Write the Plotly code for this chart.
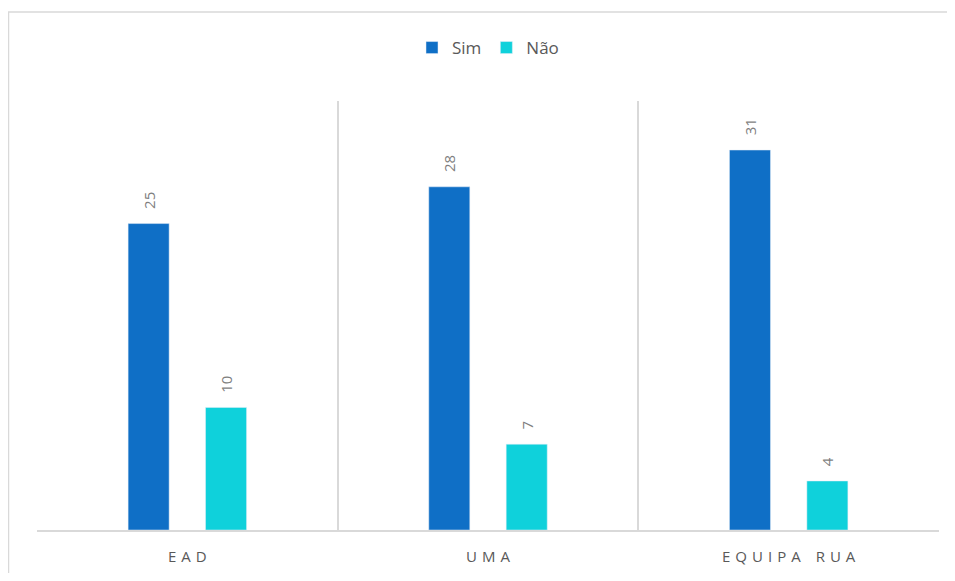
import plotly.graph_objects as go

categories = ["EAD", "UMA", "EQUIPA RUA"]
tick_labels = ["E\u2004A\u2004D", "U\u2004M\u2004A", "E\u2004Q\u2004U\u2004I\u2004P\u2004A\u2002\u2002R\u2004U\u2004A"]
sim_values = [25, 28, 31]
nao_values = [10, 7, 4]

SIM_COLOR = "#0F6FC6"
NAO_COLOR = "#0FD1DB"
GRID = "#D9D9D9"
pad = "\u00a0\u00a0\u00a0"

# page body has an 8px default margin: compensate so plot area lands where the reference has it
W, H = 939, 565
L, R, T, B = 29, 8, 93, 43
pw, ph = W - L - R, H - T - B

fig = go.Figure()
fig.add_trace(go.Bar(
    name="Sim", x=categories, y=sim_values, marker_color=SIM_COLOR,
    text=[pad + str(v) for v in sim_values], textposition="outside",
    textangle=-90, textfont=dict(color="#7F7F7F", size=15, family="Open Sans"),
    cliponaxis=False,
))
fig.add_trace(go.Bar(
    name="Não", x=categories, y=nao_values, marker_color=NAO_COLOR,
    text=[pad + str(v) for v in nao_values], textposition="outside",
    textangle=-90, textfont=dict(color="#7F7F7F", size=15, family="Open Sans"),
    cliponaxis=False,
))
# invisible trace on overlay axis to show category boundary gridlines
fig.add_trace(go.Scatter(x=[-0.5, 2.5], y=[0, 0], xaxis="x2", mode="markers",
                         marker=dict(opacity=0), showlegend=False, hoverinfo="skip"))

fig.update_layout(
    width=W, height=H,
    margin=dict(l=L, r=R, t=T, b=B),
    paper_bgcolor="white", plot_bgcolor="white",
    barmode="group", bargap=0.485, bargroupgap=0.47,
    font=dict(family="Open Sans", color="#595959"),
    legend=dict(orientation="h", x=0.5, xanchor="center", y=1 + (T - 40) / ph, yanchor="middle",
                font=dict(size=17, color="#595959"), itemwidth=30, traceorder="normal"),
    xaxis=dict(tickvals=categories, ticktext=tick_labels, showgrid=False,
               showline=True, linecolor=GRID, linewidth=1.5, ticks="",
               tickfont=dict(size=15, color="#595959"), ticklabelstandoff=12),
    xaxis2=dict(overlaying="x", range=[-0.5, 2.5], tickvals=[-0.5, 0.5, 1.5, 2.5],
                showgrid=True, gridcolor=GRID, gridwidth=1.5, showticklabels=False,
                zeroline=False, ticks=""),
    yaxis=dict(range=[0, 35], visible=False, showgrid=False),
    shapes=[dict(type="rect", xref="paper", yref="paper",
                 x0=(0.5 - L) / pw, x1=1.5, y0=-0.5, y1=1 + (T - 4) / ph,
                 line=dict(color=GRID, width=1.5), fillcolor="rgba(0,0,0,0)", layer="below")],
)
fig.write_html("out.html")
